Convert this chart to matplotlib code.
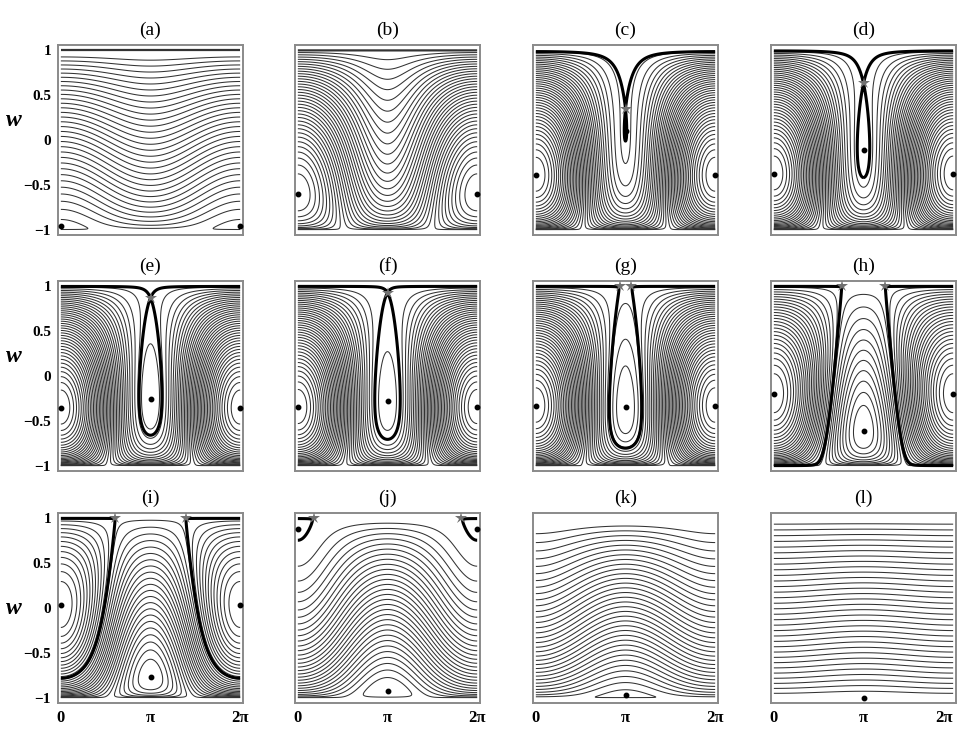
import numpy as np
import matplotlib
matplotlib.use("Agg")
import matplotlib.pyplot as plt
from matplotlib.transforms import blended_transform_factory

labels = ["(a)", "(b)", "(c)", "(d)", "(e)", "(f)",
          "(g)", "(h)", "(i)", "(j)", "(k)", "(l)"]
detuning = [-6.0, -1.26, -0.515, -0.47, -0.406, -0.388,
            -0.339, 0.02, 0.578, 2.245, 5.0, 40.0]
nonlin = -0.525
n_levels = [32, 36, 40, 40, 40, 40, 40, 36, 34, 30, 34, 32]
level_shift = [0.66, 0, 0, 0, 0, 0, 0, 0, 0, 0, -0.58, 0]

w_ticks = [-1, -0.5, 0, 0.5, 1]
w_ticklabels = ["\u22121", "\u22120.5", "0", "0.5", "1"]
phi_ticks = [0, np.pi, 2 * np.pi]
phi_ticklabels = ["0", "\u03c0", "2\u03c0"]
w_label_level = [0.22, 0.22, 0.0]

serif = ["Liberation Serif", "DejaVu Serif"]


def ham(phi, w, a):
    return a * w + nonlin * w**2 + (1 - w) * np.sqrt(1 + w) * np.cos(phi)


def dham_dw(phi, w, a):
    g = -(1 + 3 * w) / (2 * np.sqrt(1 + w))
    return a + 2 * nonlin * w + np.cos(phi) * g


def hess_det(phi, w):
    u = 1 + w
    gp = -0.75 / np.sqrt(u) - 0.5 * u**-1.5
    h_pp = -(1 - w) * np.sqrt(u) * np.cos(phi)
    h_ww = 2 * nonlin + np.cos(phi) * gp
    return h_pp * h_ww


def fixed_points(a):
    centers, saddles = [], []
    ws = np.linspace(-1 + 1e-9, 1 - 1e-9, 200001)
    for phi in (0.0, np.pi):
        d = dham_dw(phi, ws, a)
        idx = np.where(np.sign(d[:-1]) != np.sign(d[1:]))[0]
        for i in idx:
            w0 = ws[i] - d[i] * (ws[i + 1] - ws[i]) / (d[i + 1] - d[i])
            if hess_det(phi, w0) > 0:
                centers.append((phi, w0))
                if phi == 0.0:
                    centers.append((2 * np.pi, w0))
            else:
                saddles.append((phi, w0))
    edge = []
    c = (a + 2 * nonlin) / np.sqrt(2)
    if abs(c) < 1:
        p = np.arccos(c)
        edge = [(p, 1.0), (2 * np.pi - p, 1.0)]
    return centers, saddles, edge


phi = np.linspace(0, 2 * np.pi, 500)
w = np.sin(np.linspace(-np.pi / 2, np.pi / 2, 900))
P, W = np.meshgrid(phi, w)

fig = plt.figure(figsize=(9.6, 7.31), dpi=100)
lefts = [58, 295, 533, 771]
bottoms = [235, 471, 703]
aw, ah = 185 / 960, 190 / 731

for k, lab in enumerate(labels):
    row, col = divmod(k, 4)
    ax = fig.add_axes([lefts[col] / 960, 1 - bottoms[row] / 731, aw, ah])
    a = detuning[k]
    H = ham(P, W, a)
    span = H.max() - H.min()
    step = span / (n_levels[k] + 1)
    lv = H.min() + (np.arange(n_levels[k]) + 1 + level_shift[k]) * step
    ax.contour(P, W, H, lv, colors="#333333", linewidths=0.75,
               linestyles="solid")

    centers, saddles, edge = fixed_points(a)
    top = a + nonlin + 1e-4 * span
    sep = None
    if saddles:
        sep = ham(saddles[0][0], saddles[0][1], a)
    elif edge:
        sep = top
    if sep is not None:
        ax.contour(P, W, H, [sep], colors="black", linewidths=2.2,
                   linestyles="solid")
    elif a < 0:
        ax.contour(P, W, H, [top], colors="#333333", linewidths=1.6,
                   linestyles="solid")

    for (px, py) in centers:
        ax.plot(px, py, "o", color="black", ms=3.2, zorder=5)
    for (px, py) in saddles + edge:
        ax.plot(px, py, "*", color="#707070", ms=9, mew=0, zorder=6)

    ax.set_xlim(-0.1, 2 * np.pi + 0.1)
    ax.set_ylim(-1.06, 1.06)
    for s in ax.spines.values():
        s.set_color("#8a8a8a")
        s.set_linewidth(1.4)
    ax.tick_params(length=0, pad=5)
    ax.set_yticks(w_ticks)
    ax.set_xticks(phi_ticks)
    if col == 0:
        ax.set_yticklabels(w_ticklabels, fontfamily=serif,
                           fontweight="bold", fontsize=11)
        tr = blended_transform_factory(ax.transAxes, ax.transData)
        ax.text(-0.238, w_label_level[row], "w", transform=tr,
                fontfamily=serif, fontstyle="italic", fontweight="bold",
                fontsize=17, ha="center", va="center")
    else:
        ax.set_yticklabels([])
    if row == 2:
        tl = ax.set_xticklabels(phi_ticklabels, fontfamily=serif,
                                fontweight="bold", fontsize=12)
        if col == 3:
            tl[-1].set_horizontalalignment("right")
    else:
        ax.set_xticklabels([])
    ax.set_title(lab, fontfamily=serif, fontsize=14, pad=7)

fig.savefig("out.png", dpi=100)
